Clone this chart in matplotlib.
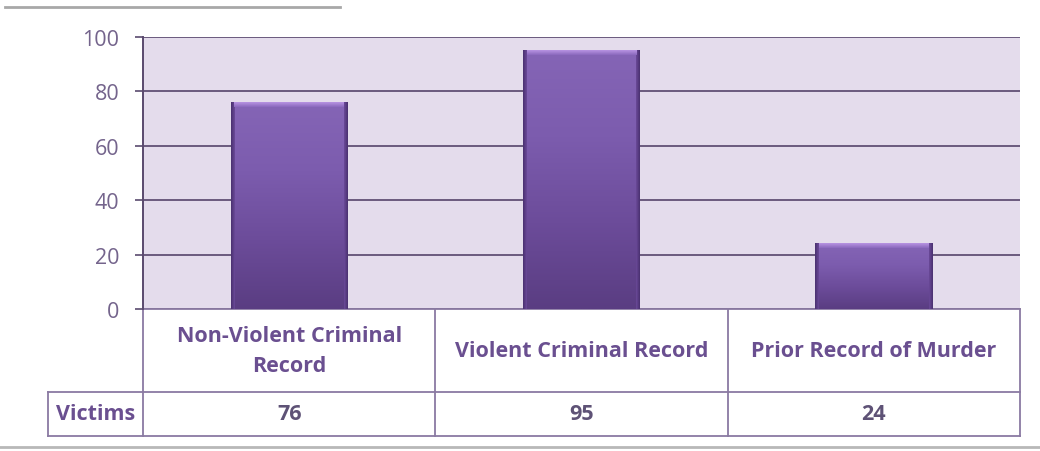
import numpy as np
import matplotlib.pyplot as plt
from matplotlib.colors import LinearSegmentedColormap

categorias = ["Non-Violent Criminal\nRecord", "Violent Criminal Record", "Prior Record of Murder"]
victimas = [76, 95, 24]
serie = "Victims"
yticks = [0, 20, 40, 60, 80, 100]

plt.rcParams['font.family'] = ['Open Sans', 'DejaVu Sans']

fig = plt.figure(figsize=(10.4, 4.52), dpi=100)
fig.patch.set_facecolor("white")
ax = fig.add_axes([143/1040, 1 - 310/452, 877/1040, 272/452])
ax.set_facecolor("#e4dcec")

x = np.arange(len(victimas))
barras = ax.bar(x, victimas, width=0.4, color="#7453a6", edgecolor="none", zorder=3)

# degradado vertical dentro de cada barra, con biseles claros arriba y oscuros a los lados
cmap = LinearSegmentedColormap.from_list("morado", ["#5a3d82", "#6c4c9a", "#7c5cae", "#8565b6"])
cmap_top = LinearSegmentedColormap.from_list("tapa", ["#8a68bd", "#b894e2"])
cmap_lado = LinearSegmentedColormap.from_list("lado", ["#4a3070", "#6a4a98"])
grad = np.linspace(0, 1, 256).reshape(-1, 1)
for b in barras:
    x0, w, h = b.get_x(), b.get_width(), b.get_height()
    img = ax.imshow(grad, cmap=cmap, aspect="auto", origin="lower",
                    extent=[x0, x0 + w, 0, h], zorder=3, vmin=0, vmax=1.0)
    img.set_clip_path(b)
    ax.imshow(np.linspace(0, 1, 64).reshape(1, -1), cmap=cmap_lado, aspect="auto",
              extent=[x0, x0 + 0.012, 0, h], zorder=4)
    ax.imshow(np.linspace(1, 0, 64).reshape(1, -1), cmap=cmap_lado, aspect="auto",
              extent=[x0 + w - 0.012, x0 + w, 0, h], zorder=4)
    ax.imshow(np.linspace(0, 1, 64).reshape(-1, 1), cmap=cmap_top, aspect="auto",
              origin="lower", extent=[x0 + 0.012, x0 + w - 0.012, h - 1.6, h], zorder=5)

ax.set_xlim(-0.5, 2.5)
ax.set_ylim(0, 100)
ax.set_yticks(yticks)
ax.set_xticks([])
ax.yaxis.grid(True, color="#6a5a7e", linewidth=1.4, zorder=1)
ax.tick_params(axis="y", direction="out", length=6, width=1.2, color="#5a4a6e",
               labelcolor="#74648c", labelsize=15.5, pad=11)
for s in ["top", "right", "bottom"]:
    ax.spines[s].set_visible(False)
ax.spines["left"].set_color("#5a4a6e")
ax.spines["left"].set_linewidth(1.4)

# tabla de datos bajo el eje
tr = ax.get_xaxis_transform()
borde = "#8a7aa2"
h1 = 83 / 272
h2 = 44 / 272
izq = -0.5 - 95 / 292
kw = dict(transform=tr, clip_on=False, color=borde, linewidth=1.3)
ax.plot([-0.5, 2.5], [0, 0], **kw)
ax.plot([izq, 2.5], [-h1, -h1], **kw)
ax.plot([izq, 2.5], [-h1 - h2, -h1 - h2], **kw)
ax.plot([izq, izq], [-h1, -h1 - h2], **kw)
for xv in [-0.5, 0.5, 1.5, 2.5]:
    ax.plot([xv, xv], [0, -h1 - h2], **kw)

color_txt = "#6a4f90"
for i, (c, v) in enumerate(zip(categorias, victimas)):
    ax.text(i, -h1 / 2, c, transform=tr, ha="center", va="center", fontsize=15.5,
            fontweight="bold", color=color_txt, linespacing=1.55)
    ax.text(i, -h1 - h2 / 2, str(v), transform=tr, ha="center", va="center",
            fontsize=15.5, fontweight="bold", color="#5e5276")
ax.text((izq - 0.5) / 2, -h1 - h2 / 2, serie, transform=tr, ha="center", va="center",
        fontsize=15.5, fontweight="bold", color=color_txt)

# lineas grises de la pagina
fig.add_artist(plt.Line2D([5/1040, 340/1040], [1 - 8/452, 1 - 8/452], color="#a8a8a8", linewidth=2))
fig.add_artist(plt.Line2D([0, 1], [1 - 448/452, 1 - 448/452], color="#b8b8b8", linewidth=2))

fig.savefig("out.png", dpi=100)
